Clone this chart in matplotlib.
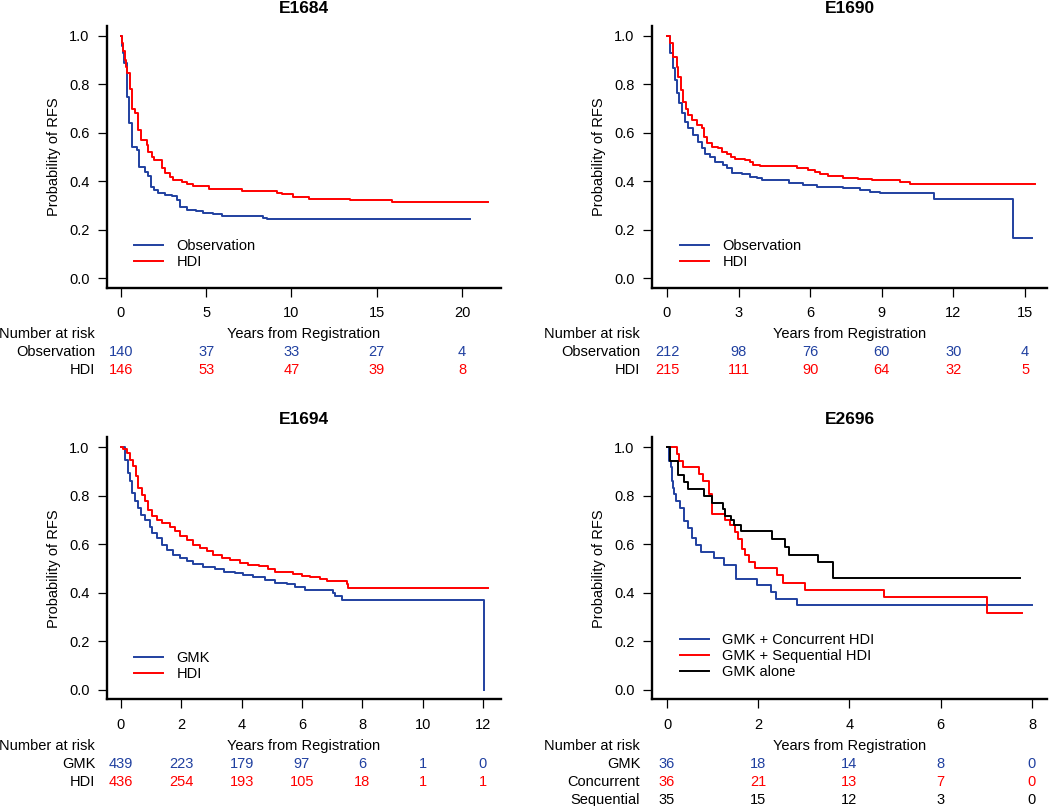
import matplotlib
matplotlib.use("Agg")
import matplotlib.pyplot as plt
from matplotlib.transforms import blended_transform_factory

plt.rcParams['font.family'] = ['Liberation Sans', 'DejaVu Sans']
plt.rcParams['font.size'] = 10.5

BLUE = '#2040a0'
RED = '#ff0000'
BLACK = '#000000'

# ---- E1684 ----
e1684_obs_t = [0, 0.05, 0.1, 0.19, 0.33, 0.47, 0.63, 0.92, 1.06, 1.41, 1.60, 1.76, 1.95, 2.15,
               2.58, 2.97, 3.26, 3.46, 3.9, 4.4, 4.8, 5.4, 5.9, 8.31, 8.54, 20.5]
e1684_obs_s = [1.0, 0.96, 0.93, 0.887, 0.749, 0.639, 0.543, 0.53, 0.46, 0.44, 0.42, 0.377, 0.364, 0.35,
               0.344, 0.337, 0.323, 0.295, 0.28, 0.275, 0.268, 0.263, 0.258, 0.249, 0.242, 0.242]
e1684_hdi_t = [0, 0.05, 0.12, 0.23, 0.3, 0.38, 0.5, 0.66, 0.85, 1.0, 1.2, 1.5, 1.6, 1.8, 1.95, 2.38,
               2.58, 2.87, 3.07, 3.55, 3.85, 4.24, 5.15, 7.08, 9.17, 9.42, 10.1, 11.0, 13.43, 15.88, 21.54]
e1684_hdi_s = [1.0, 0.97, 0.94, 0.90, 0.87, 0.846, 0.78, 0.70, 0.68, 0.61, 0.57, 0.55, 0.52, 0.50, 0.487, 0.453,
               0.433, 0.419, 0.405, 0.398, 0.388, 0.382, 0.366, 0.359, 0.353, 0.346, 0.336, 0.328, 0.321, 0.313, 0.313]
e1684_risk_t = [0, 5, 10, 15, 20]
e1684_risk_obs = [140, 37, 33, 27, 4]
e1684_risk_hdi = [146, 53, 47, 39, 8]

# ---- E1690 ----
e1690_obs_t = [0, 0.13, 0.24, 0.34, 0.43, 0.52, 0.61, 0.75, 0.89, 1.1, 1.31, 1.45, 1.59, 1.8, 2.0, 2.36,
               2.5, 2.71, 3.13, 3.48, 3.76, 4.0, 5.1, 5.71, 6.27, 7.39, 8.09, 8.51, 8.93, 11.2, 14.51, 15.28]
e1690_obs_s = [1.0, 0.928, 0.866, 0.818, 0.763, 0.722, 0.68, 0.646, 0.618, 0.591, 0.563, 0.536, 0.512, 0.499, 0.481, 0.466,
               0.453, 0.435, 0.429, 0.419, 0.412, 0.405, 0.391, 0.384, 0.377, 0.37, 0.364, 0.357, 0.353, 0.326, 0.164, 0.164]
e1690_hdi_t = [0, 0.13, 0.27, 0.41, 0.48, 0.58, 0.66, 0.8, 0.9, 1.03, 1.24, 1.45, 1.55, 1.69, 1.87, 2.15, 2.29,
               2.5, 2.7, 2.85, 3.27, 3.48, 3.62, 3.9, 5.45, 5.92, 6.2, 6.41, 6.76, 7.39, 8.02, 8.57, 9.76, 10.18, 15.42]
e1690_hdi_s = [1.0, 0.97, 0.914, 0.873, 0.832, 0.777, 0.729, 0.70, 0.674, 0.653, 0.632, 0.618, 0.584, 0.556, 0.543, 0.536, 0.522,
               0.512, 0.499, 0.493, 0.488, 0.481, 0.466, 0.462, 0.453, 0.446, 0.437, 0.428, 0.422, 0.415, 0.408, 0.405, 0.395, 0.388, 0.388]
e1690_risk_t = [0, 3, 6, 9, 12, 15]
e1690_risk_obs = [212, 98, 76, 60, 30, 4]
e1690_risk_hdi = [215, 111, 90, 64, 32, 5]

# ---- E1694 ----
e1694_gmk_t = [0, 0.13, 0.22, 0.3, 0.38, 0.46, 0.55, 0.66, 0.8, 0.96, 1.04, 1.18, 1.35, 1.51, 1.73, 1.95, 2.18,
               2.4, 2.73, 3.12, 3.4, 3.78, 4.06, 4.39, 4.78, 5.11, 5.49, 5.77, 6.1, 7.04, 7.09, 7.32, 12.03]
e1694_gmk_s = [1.0, 0.946, 0.892, 0.858, 0.81, 0.776, 0.748, 0.72, 0.70, 0.672, 0.645, 0.624, 0.596, 0.576, 0.556, 0.542, 0.532,
               0.518, 0.507, 0.496, 0.487, 0.48, 0.473, 0.463, 0.452, 0.441, 0.434, 0.424, 0.411, 0.397, 0.387, 0.368, 0.0]
e1694_hdi_t = [0, 0.08, 0.19, 0.3, 0.41, 0.49, 0.55, 0.69, 0.8, 0.88, 1.02, 1.18, 1.35, 1.62, 1.79, 1.95, 2.18, 2.4,
               2.62, 2.84, 3.06, 3.34, 3.61, 3.94, 4.22, 4.56, 4.89, 5.11, 5.71, 5.99, 6.26, 6.6, 6.82, 7.48, 7.54, 12.17]
e1694_hdi_s = [1.0, 0.99, 0.975, 0.948, 0.92, 0.879, 0.831, 0.804, 0.776, 0.742, 0.714, 0.70, 0.687, 0.67, 0.652, 0.632, 0.618, 0.598,
               0.584, 0.57, 0.556, 0.543, 0.533, 0.522, 0.515, 0.511, 0.497, 0.484, 0.477, 0.47, 0.465, 0.455, 0.448, 0.434, 0.419, 0.419]
e1694_risk_t = [0, 2, 4, 6, 8, 10, 12]
e1694_risk_gmk = [439, 223, 179, 97, 6, 1, 0]
e1694_risk_hdi = [436, 254, 193, 105, 18, 1, 1]

# ---- E2696 ----
e2696_conc_t = [0, 0.05, 0.08, 0.10, 0.13, 0.15, 0.20, 0.28, 0.37, 0.47, 0.54, 0.64, 0.75, 1.02, 1.25,
                1.51, 1.98, 2.29, 2.39, 2.84, 8.0]
e2696_conc_s = [1.0, 0.944, 0.917, 0.861, 0.833, 0.806, 0.778, 0.75, 0.694, 0.667, 0.625, 0.597, 0.569, 0.542, 0.514,
                0.458, 0.431, 0.403, 0.375, 0.347, 0.347]
e2696_seq_t = [0, 0.21, 0.26, 0.34, 0.71, 0.78, 0.93, 0.98, 1.27, 1.38, 1.49, 1.56, 1.64, 1.71, 1.80, 1.93,
               2.42, 2.55, 3.03, 4.76, 7.01, 7.79]
e2696_seq_s = [1.0, 0.972, 0.944, 0.917, 0.889, 0.861, 0.806, 0.722, 0.70, 0.68, 0.65, 0.62, 0.58, 0.555, 0.527, 0.50,
               0.472, 0.441, 0.411, 0.38, 0.317, 0.317]
e2696_alone_t = [0, 0.07, 0.25, 0.37, 0.45, 0.81, 0.98, 1.23, 1.27, 1.40, 1.47, 1.62, 2.31, 2.58, 2.68, 3.30, 3.64, 7.73]
e2696_alone_s = [1.0, 0.943, 0.886, 0.857, 0.829, 0.80, 0.771, 0.743, 0.714, 0.70, 0.68, 0.652, 0.62, 0.59, 0.555, 0.525, 0.46, 0.46]
e2696_risk_t = [0, 2, 4, 6, 8]
e2696_risk_gmk = [36, 18, 14, 8, 0]
e2696_risk_conc = [36, 21, 13, 7, 0]
e2696_risk_seq = [35, 15, 12, 3, 0]

W, H = 1050, 806
fig = plt.figure(figsize=(W / 100, H / 100), dpi=100)


def px_axes(left, top, right, bottom):
    return fig.add_axes([left / W, 1 - bottom / H, (right - left) / W, (bottom - top) / H])


def style_axes(ax, title, xlim, xticks):
    ax.set_xlim(xlim)
    ax.set_ylim(-0.04, 1.04)
    ax.set_xticks(xticks)
    ax.set_yticks([0, 0.2, 0.4, 0.6, 0.8, 1.0])
    ax.set_yticklabels(['0.0', '0.2', '0.4', '0.6', '0.8', '1.0'])
    for s in ['top', 'right']:
        ax.spines[s].set_visible(False)
    for s in ['left', 'bottom']:
        ax.spines[s].set_linewidth(1.7)
    ax.tick_params(axis='x', length=6.5, width=0.9, pad=7)
    ax.tick_params(axis='y', length=6.5, width=0.9, pad=6)
    ax.set_title(title, fontweight='bold', fontsize=12.5, pad=9.5)
    ax.set_ylabel('Probability of RFS')
    ax.yaxis.set_label_coords(-0.134, 0.5)
    ax.yaxis.label.set_va('center')
    ax.set_xlabel('Years from Registration')
    ax.xaxis.set_label_coords(0.5, -0.172)
    ax.xaxis.label.set_va('center_baseline')


def risk_table(ax, times, rows, labels, colors):
    tr = blended_transform_factory(ax.transData, ax.transAxes)
    ax.text(-0.03, -0.172, 'Number at risk', transform=ax.transAxes, ha='right', va='center_baseline')
    for i, (lab, vals, col) in enumerate(zip(labels, rows, colors)):
        y = -0.241 - 0.069 * i
        ax.text(-0.03, y, lab, transform=ax.transAxes, ha='right', va='center_baseline')
        for t, v in zip(times, vals):
            ax.text(t, y, str(v), transform=tr, ha='center', va='center_baseline', color=col)


def add_legend(ax, x, y):
    ax.legend(loc='center left', bbox_to_anchor=(x, y), frameon=False, borderpad=0, borderaxespad=0,
              handlelength=2.0, handletextpad=0.9, labelspacing=0.15)


lw = 1.4

# E1684
ax1 = px_axes(107, 26.3, 501, 287.7)
ax1.step(e1684_obs_t, e1684_obs_s, where='post', color=BLUE, lw=lw, label='Observation')
ax1.step(e1684_hdi_t, e1684_hdi_s, where='post', color=RED, lw=lw, label='HDI')
style_axes(ax1, 'E1684', (-0.821, 22.29), e1684_risk_t)
add_legend(ax1, 0.0685, 0.129)
risk_table(ax1, e1684_risk_t, [e1684_risk_obs, e1684_risk_hdi], ['Observation', 'HDI'], [BLUE, RED])

# E1690
ax2 = px_axes(652, 26.3, 1047, 287.7)
ax2.step(e1690_obs_t, e1690_obs_s, where='post', color=BLUE, lw=lw, label='Observation')
ax2.step(e1690_hdi_t, e1690_hdi_s, where='post', color=RED, lw=lw, label='HDI')
style_axes(ax2, 'E1690', (-0.628, 15.92), e1690_risk_t)
add_legend(ax2, 0.071, 0.129)
risk_table(ax2, e1690_risk_t, [e1690_risk_obs, e1690_risk_hdi], ['Observation', 'HDI'], [BLUE, RED])

# E1694
ax3 = px_axes(107, 437.3, 501, 699.4)
ax3.step(e1694_gmk_t, e1694_gmk_s, where='post', color=BLUE, lw=lw, label='GMK')
ax3.step(e1694_hdi_t, e1694_hdi_s, where='post', color=RED, lw=lw, label='HDI')
style_axes(ax3, 'E1694', (-0.464, 12.6), e1694_risk_t)
add_legend(ax3, 0.0685, 0.128)
risk_table(ax3, e1694_risk_t, [e1694_risk_gmk, e1694_risk_hdi], ['GMK', 'HDI'], [BLUE, RED])

# E2696
ax4 = px_axes(652, 437.3, 1047, 699.4)
ax4.step(e2696_conc_t, e2696_conc_s, where='post', color=BLUE, lw=lw, label='GMK + Concurrent HDI')
ax4.step(e2696_seq_t, e2696_seq_s, where='post', color=RED, lw=lw, label='GMK + Sequential HDI')
ax4.step(e2696_alone_t, e2696_alone_s, where='post', color=BLACK, lw=lw, label='GMK alone')
style_axes(ax4, 'E2696', (-0.329, 8.33), e2696_risk_t)
add_legend(ax4, 0.071, 0.166)
risk_table(ax4, e2696_risk_t, [e2696_risk_gmk, e2696_risk_conc, e2696_risk_seq],
           ['GMK', 'Concurrent', 'Sequential'], [BLUE, RED, BLACK])

fig.savefig('out.png', dpi=100)
